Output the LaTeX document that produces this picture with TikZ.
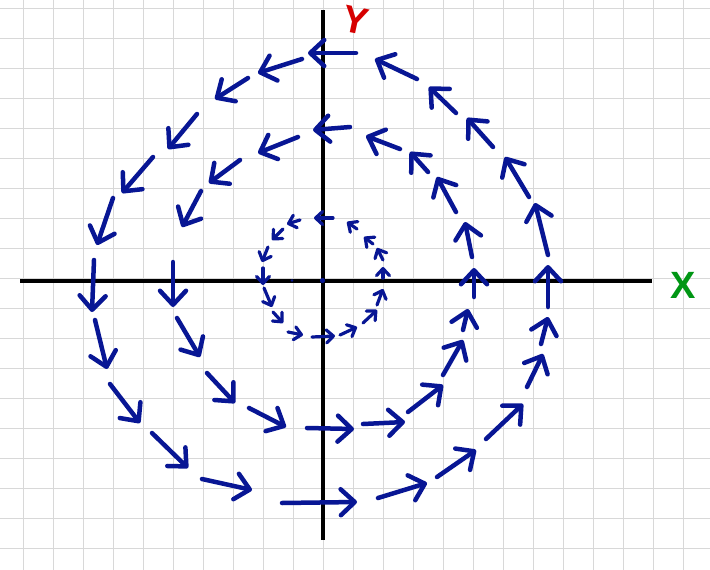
\documentclass[tikz,border=0pt]{standalone}
\usepackage{fontspec}
\setsansfont{Liberation Sans}
\usetikzlibrary{arrows.meta}
\definecolor{gridgray}{RGB}{216,216,216}
\definecolor{arrowblue}{RGB}{8,22,148}
\definecolor{labred}{RGB}{214,0,0}
\definecolor{labgreen}{RGB}{0,150,20}
\tikzset{
  bigarr/.style={draw=arrowblue, line width=4.5pt, line cap=round, line join=round,
    -{Straight Barb[length=14pt,width=26pt,round]}},
  smallarr/.style={draw=arrowblue, line width=3.2pt, line cap=round, line join=round,
    -{Straight Barb[length=7pt,width=13pt,round]}},
  axisline/.style={draw=black, line width=4pt},
  gridline/.style={draw=gridgray, line width=1pt},
  axlabel/.style={font=\sffamily\bfseries\fontsize{38}{38}\selectfont, inner sep=0pt}
}
\begin{document}
\begin{tikzpicture}[x=1pt,y=-1pt]
\useasboundingbox (0,0) rectangle (710,570);
\fill[white] (0,0) rectangle (710,570);
% grid
\foreach \gx in {23.3,53.3,...,713.3} \draw[gridline] (\gx,0) -- (\gx,570);
\foreach \gy in {8.3,38.3,...,578.3} \draw[gridline] (0,\gy) -- (710,\gy);
% axes
\coordinate (xl) at (20,280.5);
\coordinate (xr) at (652,280.5);
\coordinate (yt) at (322.5,10);
\coordinate (yb) at (322.5,540);
\draw[axisline] (xl) -- (xr);
\draw[axisline] (yt) -- (yb);
\fill[arrowblue] (322.5,280.5) circle (2.6);
\fill[arrowblue] (292,280.5) circle (1.4);
% labels
\node[axlabel, text=labgreen] (labx) at (683.5,285) {X};
\node[axlabel, text=labred, rotate=-12] (laby) at (355.5,20) {Y};
% outer ring
\foreach \a/\b/\c/\d in {356/53/308/53, 302/59/258/73, 248/78/215/99, 197/114/168/149,
  153/157/122/193, 113/198/97/245, 94/260/92/312, 95/320/107/369, 110/384/140/423,
  152/433/188/468, 202/479/252/490, 282/503/357/502, 378/498/427/483, 437/477/476/450,
  486/439/523/404, 527/387/543/354, 541/344/548/317, 548/307/548/265, 548/255/535/203,
  529/197/505/157, 493/147/467/118, 456/113/429/87, 417/79/375/59}
  \draw[bigarr] (\a,\b) -- (\c,\d);
% middle ring
\foreach \a/\b/\c/\d in {350/127/313/130, 298/137/258/153, 240/160/209/183, 201/191/182/227,
  173/262/173/307, 177/318/200/357, 207/373/235/403, 249/408/286/427, 307/428/354/429,
  363/424/405/422, 408/412/443/385, 443/375/463/340, 463/330/468/309, 474/297/474/268,
  472/257/465/222, 456/212/437/177, 428/172/410/152, 400/149/366/136}
  \draw[bigarr] (\a,\b) -- (\c,\d);
% inner ring
\foreach \a/\b/\c/\d in {333/218/314/218, 300/220/287/224, 283/229/272/240, 268/247/262/262,
  263/268/263/285, 264/288/272/307, 273/312/283/323, 288/332/303/335, 312/337/335/336,
  340/335/357/327, 363/323/377/310, 377/305/383/289, 383/278/383/267, 383/260/377/248,
  373/244/364/237, 357/229/347/222}
  \draw[smallarr] (\a,\b) -- (\c,\d);
\end{tikzpicture}
\end{document}
